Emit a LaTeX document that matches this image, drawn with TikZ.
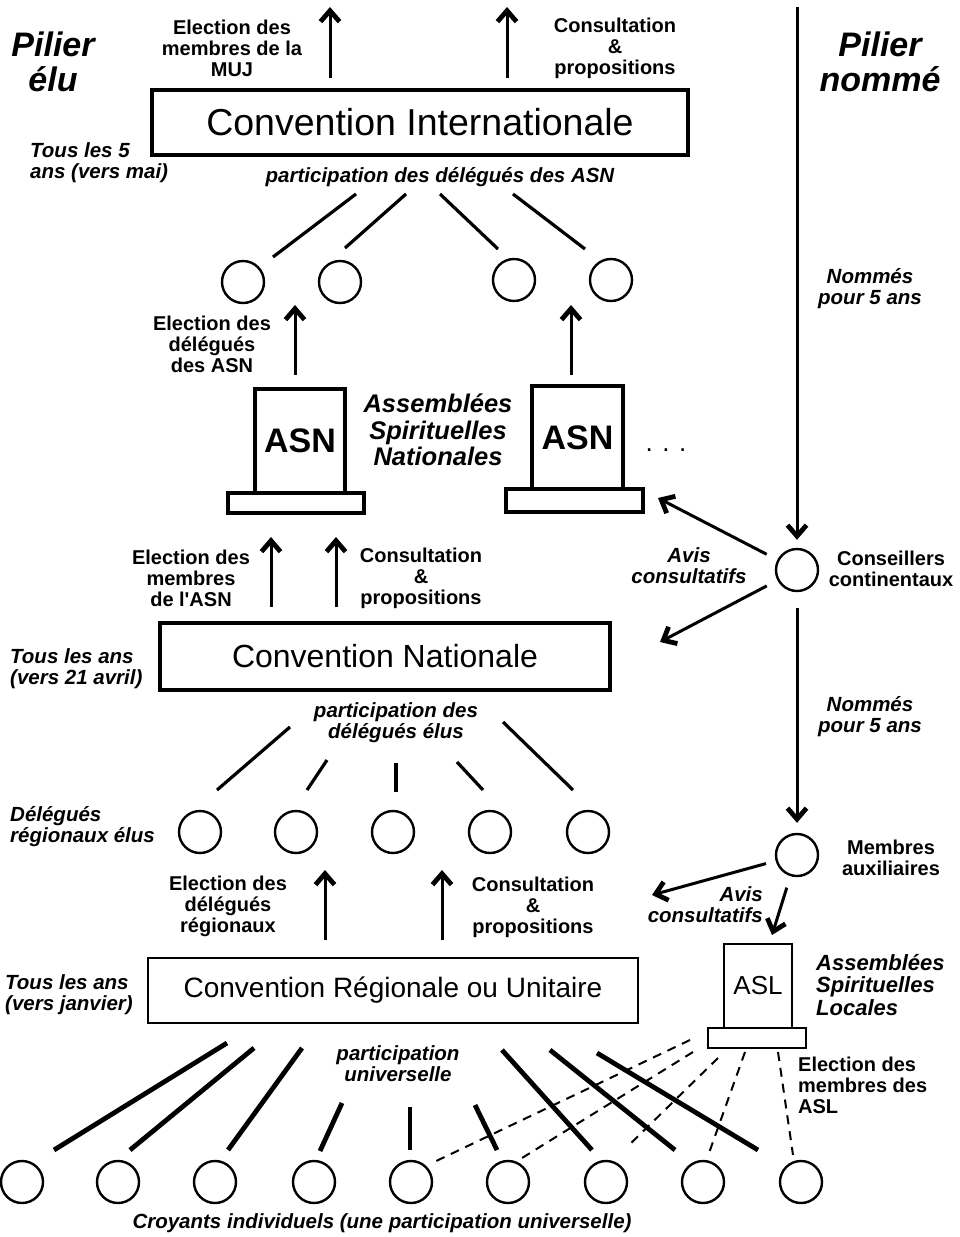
\documentclass[tikz,border=0pt]{standalone}
\usepackage{fontspec}
\setmainfont{Liberation Sans}[Ligatures=TeXOff]
\usetikzlibrary{arrows.meta}
\begin{document}
\begin{tikzpicture}[x=1pt,y=-1pt,
  lab/.style={font=\fontsize{20}{21}\selectfont\bfseries, align=center, inner sep=0pt},
  ilab/.style={font=\fontsize{20.5}{21}\selectfont\bfseries\itshape, align=center, inner sep=0pt},
  dot/.style={circle, draw, line width=2.4pt, minimum size=42pt, inner sep=0pt},
  conv/.style={draw, rectangle, inner sep=0pt},
  arr/.style={line width=3pt, -{Straight Barb[length=11pt,width=19pt,line width=0pt 1.6]}},
  pline/.style={line width=3.2pt},
  bline/.style={line width=4.8pt},
  dline/.style={line width=2pt, dash pattern=on 9pt off 7pt},
]
\useasboundingbox (0,0) rectangle (960,1237);
\fill[white] (0,0) rectangle (960,1237);

% ---------- titles ----------
\node[font=\fontsize{34}{35}\selectfont\bfseries\itshape, align=center, inner sep=0pt] (pe) at (53,62) {Pilier\\élu};
\node[font=\fontsize{34}{35}\selectfont\bfseries\itshape, align=center, inner sep=0pt] (pn) at (880,62) {Pilier\\nommé};

% ---------- Convention Internationale ----------
\node[conv, line width=4.5pt, minimum width=536pt, minimum height=65pt, font=\fontsize{37.5}{40}\selectfont] (ci) at (420,122.5) {Convention Internationale};
\node[lab] (lmuj) at (232,48) {Election des\\membres de la\\MUJ};
\node[lab] (lcons1) at (615,48) {Consultation\\\&\\propositions};
\node[ilab, align=left, anchor=west] (t5) at (30,162.5) {Tous les 5\\ans (vers mai)};
\node[ilab] (pasn) at (440,177) {participation des délégués des ASN};
\coordinate (a1s) at (330,78); \coordinate (a1e) at (330,7);
\coordinate (a2s) at (507,78); \coordinate (a2e) at (507,7);
\draw[arr] (a1s) -- (a1e);
\draw[arr] (a2s) -- (a2e);

% delegates ASN circles
\node[dot] (d1) at (243,282) {};
\node[dot] (d2) at (340,282) {};
\node[dot] (d3) at (514,280) {};
\node[dot] (d4) at (611,280) {};
\coordinate (u1a) at (356,194); \coordinate (u1b) at (273,257);
\coordinate (u2a) at (406,194); \coordinate (u2b) at (345,248);
\coordinate (u3a) at (440,194); \coordinate (u3b) at (498,249);
\coordinate (u4a) at (513,194); \coordinate (u4b) at (585,249);
\draw[pline] (u1a) -- (u1b);
\draw[pline] (u2a) -- (u2b);
\draw[pline] (u3a) -- (u3b);
\draw[pline] (u4a) -- (u4b);

% ---------- ASN ----------
\node[conv, line width=3.5pt, minimum width=90pt, minimum height=104pt, font=\fontsize{34}{36}\selectfont\bfseries] (asn1) at (300,441) {ASN};
\node[conv, line width=3.5pt, minimum width=136pt, minimum height=20pt] (asn1b) at (296,503) {};
\node[conv, line width=3.5pt, minimum width=91pt, minimum height=103pt, font=\fontsize{34}{36}\selectfont\bfseries] (asn2) at (577.5,437.5) {ASN};
\node[conv, line width=3.5pt, minimum width=137pt, minimum height=23pt] (asn2b) at (574.5,500.5) {};
\node[font=\fontsize{25.5}{26.5}\selectfont\bfseries\itshape, align=center, inner sep=0pt] (lasn) at (438,430) {Assemblées\\Spirituelles\\Nationales};
\node[font=\fontsize{26}{26}\selectfont, inner sep=0pt, anchor=base] (dots) at (666,451) {. . .};
\node[lab] (ldasn) at (212,344) {Election des\\délégués\\des ASN};
\coordinate (e1s) at (295,375); \coordinate (e1e) at (295,305);
\draw[arr] (e1s) -- (e1e);
\coordinate (e2s) at (571,375); \coordinate (e2e) at (571,305);
\draw[arr] (e2s) -- (e2e);

% ---------- right column ----------
\coordinate (top) at (797,7);
\node[dot] (cc) at (797,570) {};
\node[lab] (lcc) at (891,569) {Conseillers\\continentaux};
\node[ilab] (nom1) at (870,289) {Nommés\\pour 5 ans};
\draw[arr, shorten >=8pt] (top) -- (cc);
\coordinate (av1) at (658,498);
\coordinate (av2) at (660,642);
\draw[arr, shorten <=12pt] (cc) -- (av1);
\draw[arr, shorten <=12pt] (cc) -- (av2);
\node[ilab] (lav1) at (689,566) {Avis\\consultatifs};
\node[dot] (ma) at (797,855) {};
\node[lab] (lma) at (891,858) {Membres\\auxiliaires};
\node[ilab] (nom2) at (870,717) {Nommés\\pour 5 ans};
\draw[arr, shorten <=16pt, shorten >=10pt] (cc) -- (ma);
\coordinate (av3) at (652,895);
\coordinate (av4) at (772,935);
\draw[arr, shorten <=10pt] (ma) -- (av3);
\draw[arr, shorten <=12pt] (ma) -- (av4);
\node[ilab, align=right, anchor=east] (lav2) at (763,905) {Avis\\consultatifs};

% ---------- Convention Nationale ----------
\node[conv, line width=3.5pt, minimum width=450pt, minimum height=67pt, font=\fontsize{32}{34}\selectfont] (cn) at (385,656.5) {Convention Nationale};
\node[lab] (lmasn) at (191,578) {Election des\\membres\\de l'ASN};
\node[lab] (lcons2) at (421,578) {Consultation\\\&\\propositions};
\coordinate (b1s) at (271,607); \coordinate (b1e) at (271,537);
\coordinate (b2s) at (336,607); \coordinate (b2e) at (336,537);
\draw[arr] (b1s) -- (b1e);
\draw[arr] (b2s) -- (b2e);
\node[ilab, align=left, anchor=west] (tan1) at (10,669) {Tous les ans\\(vers 21 avril)};
\node[ilab] (pelus) at (396,723) {participation des\\délégués élus};

\node[dot] (r1) at (200,832) {};
\node[dot] (r2) at (296,832) {};
\node[dot] (r3) at (393,832) {};
\node[dot] (r4) at (490,832) {};
\node[dot] (r5) at (588,832) {};
\node[ilab, align=left, anchor=west] (lre) at (10,827) {Délégués\\régionaux élus};
\coordinate (m1a) at (290,727); \coordinate (m1b) at (217,790);
\coordinate (m2a) at (327,760); \coordinate (m2b) at (307,790);
\coordinate (m3a) at (396,763); \coordinate (m3b) at (396,792);
\coordinate (m4a) at (457,762); \coordinate (m4b) at (483,790);
\coordinate (m5a) at (503,722); \coordinate (m5b) at (573,790);
\draw[pline] (m1a) -- (m1b);
\draw[pline] (m2a) -- (m2b);
\draw[pline] (m3a) -- (m3b);
\draw[pline] (m4a) -- (m4b);
\draw[pline] (m5a) -- (m5b);

% ---------- Convention Regionale ----------
\node[conv, line width=2.8pt, minimum width=490pt, minimum height=65pt, font=\fontsize{28}{30}\selectfont] (cr) at (393,990.5) {Convention Régionale ou Unitaire};
\node[lab] (ldr) at (228,906) {Election des\\délégués\\régionaux};
\node[lab] (lcons3) at (533,907) {Consultation\\\&\\propositions};
\coordinate (c1s) at (325,940); \coordinate (c1e) at (325,870);
\coordinate (c2s) at (442,940); \coordinate (c2e) at (442,870);
\draw[arr] (c1s) -- (c1e);
\draw[arr] (c2s) -- (c2e);
\node[ilab, align=left, anchor=west] (tan2) at (5,995) {Tous les ans\\(vers janvier)};
\node[ilab] (puniv) at (398,1064) {participation\\universelle};

% ---------- ASL ----------
\node[conv, line width=2.8pt, minimum width=68pt, minimum height=84pt, font=\fontsize{26}{28}\selectfont] (asl) at (758,986) {ASL};
\node[conv, line width=2.8pt, minimum width=98pt, minimum height=20pt] (aslb) at (757,1038) {};
\node[font=\fontsize{22}{22.5}\selectfont\bfseries\itshape, align=left, anchor=west, inner sep=0pt] (lasl) at (816,985) {Assemblées\\Spirituelles\\Locales};
\node[lab, align=left, anchor=west] (lelasl) at (798,1085) {Election des\\membres des\\ASL};

% ---------- believers ----------
\foreach \i/\x in {1/22,2/118,3/215,4/314,5/411,6/508,7/606,8/703,9/801}{
  \node[dot] (b\i) at (\x,1182) {};
}
\node[ilab] (lcroy) at (382,1223) {Croyants individuels (une participation universelle)};

\coordinate (s1a) at (227,1043); \coordinate (s1b) at (54,1150);
\coordinate (s2a) at (254,1048); \coordinate (s2b) at (130,1150);
\coordinate (s3a) at (302,1048); \coordinate (s3b) at (228,1150);
\coordinate (s4a) at (342,1103); \coordinate (s4b) at (320,1151);
\coordinate (s5a) at (410,1107); \coordinate (s5b) at (410,1150);
\coordinate (s6a) at (475,1105); \coordinate (s6b) at (497,1150);
\coordinate (s7a) at (502,1050); \coordinate (s7b) at (592,1150);
\coordinate (s8a) at (550,1050); \coordinate (s8b) at (675,1150);
\coordinate (s9a) at (597,1053); \coordinate (s9b) at (758,1150);
\foreach \k in {1,...,9}{ \draw[bline] (s\k a) -- (s\k b); }

\coordinate (q1a) at (690,1040); \coordinate (q1b) at (432,1163);
\coordinate (q2a) at (693,1052); \coordinate (q2b) at (522,1158);
\coordinate (q3a) at (718,1058); \coordinate (q3b) at (627,1147);
\coordinate (q4a) at (745,1052); \coordinate (q4b) at (709,1153);
\coordinate (q5a) at (778,1052); \coordinate (q5b) at (793,1155);
\foreach \k in {1,...,5}{ \draw[dline] (q\k a) -- (q\k b); }
\end{tikzpicture}
\end{document}
